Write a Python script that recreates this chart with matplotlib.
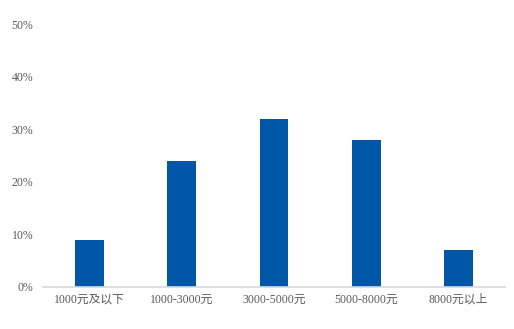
import matplotlib.pyplot as plt
from matplotlib.ticker import PercentFormatter

categories = ["1000元及以下", "1000-3000元", "3000-5000元", "5000-8000元", "8000元以上"]
shares = [9, 24, 32, 28, 7]
y_ticks = [0, 10, 20, 30, 40, 50]

plt.rcParams['font.family'] = ['Liberation Serif', 'Noto Sans CJK SC']

fig = plt.figure(figsize=(5.14, 3.29), dpi=100)
ax = fig.add_axes([0.084, 0.128, 0.898, 0.799])

ax.bar(range(len(categories)), shares, width=0.31, color="#0057a8")

ax.set_xlim(-0.5, len(categories) - 0.5)
ax.set_ylim(0, 50)
ax.set_yticks(y_ticks)
ax.yaxis.set_major_formatter(PercentFormatter(decimals=0))
ax.set_xticks(range(len(categories)))
ax.set_xticklabels(categories)

for side in ["top", "right", "left"]:
    ax.spines[side].set_visible(False)
ax.spines["bottom"].set_color("#d9d9d9")
ax.spines["bottom"].set_linewidth(1.2)
ax.tick_params(axis="both", length=0, labelsize=8.5, colors="#595959")
ax.tick_params(axis="y", pad=7)
ax.tick_params(axis="x", pad=5)

fig.savefig("out.png", dpi=100)
